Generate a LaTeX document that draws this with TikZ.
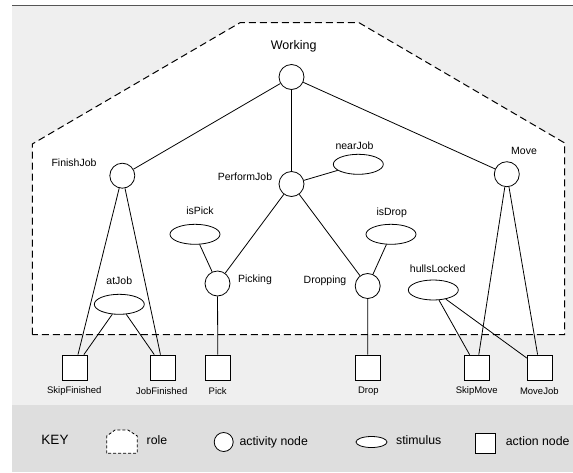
\documentclass[tikz,border=0pt]{standalone}
\usepackage{fontspec}
\setmainfont{Liberation Sans}
\usetikzlibrary{shapes.geometric}
\definecolor{bglight}{RGB}{239,239,239}
\definecolor{bgkey}{RGB}{222,222,222}
\definecolor{topgray}{RGB}{85,85,85}
\begin{document}
\begin{tikzpicture}[x=1pt,y=-1pt,
  act/.style={circle,draw,line width=0.8pt,minimum size=25pt,inner sep=0pt,fill=white},
  stim/.style={ellipse,draw,line width=0.8pt,minimum width=50pt,minimum height=20pt,inner sep=0pt,fill=white},
  actionbox/.style={rectangle,draw,line width=0.8pt,minimum size=25pt,inner sep=0pt,fill=white},
  lbl/.style={font=\fontsize{10.5}{12}\selectfont,inner sep=0pt},
  blbl/.style={font=\fontsize{9.5}{11}\selectfont,inner sep=0pt},
  klbl/.style={font=\fontsize{12.3}{14}\selectfont,inner sep=0pt},
  conn/.style={line width=0.8pt},
  rolestyle/.style={line width=1pt,dash pattern=on 7pt off 4pt}]
\useasboundingbox (0,0) rectangle (573,472);
\fill[white] (0,0) rectangle (573,472);
\fill[bglight] (12,6) rectangle (573,405);
\fill[bgkey] (12,405) rectangle (573,472);
\draw[topgray,line width=1.4pt] (12,5.7) -- (573,5.7);
% role boundary
\draw[rolestyle,fill=white] (32.3,334.7) -- (32.3,144) -- (240,22.7) -- (359,22.7) -- (564.7,143) -- (564.7,334.7) -- cycle;
% activity nodes
\node[act] (working) at (291.5,77) {};
\node[act] (finish) at (122.3,175.7) {};
\node[act] (perform) at (291.5,184) {};
\node[act] (move) at (506.8,174.2) {};
\node[act] (picking) at (217.5,283.5) {};
\node[act] (dropping) at (367.7,286) {};
% stimuli
\node[stim] (nearjob) at (358.3,164.3) {};
\node[stim] (ispick) at (195,234.3) {};
\node[stim] (atjob) at (119.3,304.3) {};
\node[stim] (isdrop) at (391,234.3) {};
\node[stim] (hulls) at (433.3,290) {};
% action nodes
\node[actionbox] (skipfin) at (74.8,367.5) {};
\node[actionbox] (jobfin) at (163.2,367.5) {};
\node[actionbox] (pick) at (217.8,367.5) {};
\node[actionbox] (drop) at (367.8,367.5) {};
\node[actionbox] (skipmove) at (476.8,367.5) {};
\node[actionbox] (movejob) at (539.8,367.5) {};
% labels
\node[inner sep=0pt,font=\fontsize{12.5}{14}\selectfont] (lworking) at (293.7,46) {Working};
\node[lbl] (lfinish) at (74,163) {FinishJob};
\node[lbl] (lperform) at (245,176.7) {PerformJob};
\node[lbl] (lnear) at (354.5,145.7) {nearJob};
\node[lbl] (lmove) at (524,151) {Move};
\node[lbl] (lispick) at (200,210.7) {isPick};
\node[lbl] (lpicking) at (255,279.3) {Picking};
\node[lbl] (latjob) at (119.3,281) {atJob};
\node[lbl] (lisdrop) at (391.7,212.7) {isDrop};
\node[lbl] (ldropping) at (325,281) {Dropping};
\node[lbl] (lhulls) at (437.7,269) {hullsLocked};
\node[blbl] (lskipfin) at (74.3,391) {SkipFinished};
\node[blbl] (ljobfin) at (161.7,391) {JobFinished};
\node[blbl] (lpick) at (217.7,391) {Pick};
\node[blbl] (ldrop) at (368.3,391) {Drop};
\node[blbl] (lskipmove) at (476.7,391) {SkipMove};
\node[blbl] (lmovejob) at (539.3,391) {MoveJob};
% connectors
\draw[conn] (working) -- (finish);
\draw[conn] (working) -- (perform);
\draw[conn] (working) -- (move);
\draw[conn] (perform) -- (nearjob);
\draw[conn] (perform) -- (picking);
\draw[conn] (perform) -- (dropping);
\draw[conn] (ispick) -- (picking);
\draw[conn] (isdrop) -- (dropping);
\draw[conn] (picking) -- (pick);
\draw[conn] (dropping) -- (drop);
\draw[conn] (finish) -- (skipfin);
\draw[conn] (finish) -- (jobfin);
\draw[conn] (atjob) -- (skipfin);
\draw[conn] (atjob) -- (jobfin);
\draw[conn] (move) -- (skipmove);
\draw[conn] (move) -- (movejob);
\draw[conn] (hulls) -- (skipmove);
\draw[conn] (hulls) -- (movejob);
% key
\node[inner sep=0pt,font=\fontsize{13.5}{15}\selectfont] (key) at (55,440) {KEY};
\draw[line width=0.8pt,dash pattern=on 3pt off 2pt,fill=white] (106.7,453.3) -- (106.7,436) -- (115,430) -- (128,430) -- (137.3,436) -- (137.3,453.3) -- cycle;
\node[klbl] (krole) at (157,440) {role};
\node[circle,draw,line width=0.8pt,minimum size=19pt,inner sep=0pt,fill=white] (kact) at (223.7,442) {};
\node[klbl] (kactl) at (273.7,442) {activity node};
\node[ellipse,draw,line width=0.8pt,minimum width=31pt,minimum height=11pt,inner sep=0pt,fill=white] (kstim) at (371.5,442) {};
\node[klbl] (kstiml) at (418.7,440) {stimulus};
\node[rectangle,draw,line width=0.8pt,minimum size=20pt,inner sep=0pt,fill=white] (kbox) at (485.3,443.3) {};
\node[klbl] (kboxl) at (537.7,441) {action node};
\end{tikzpicture}
\end{document}
